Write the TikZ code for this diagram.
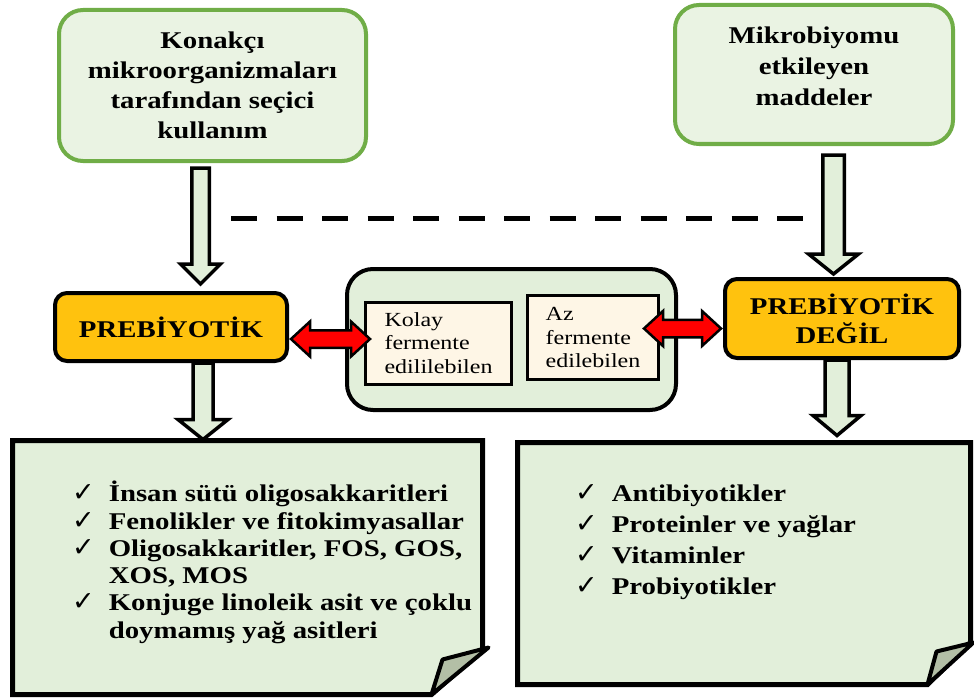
\documentclass[tikz,border=0pt]{standalone}
\usepackage{fontspec}
\setmainfont{Liberation Serif}[FakeStretch=1.2]
\newfontfamily\checkfont{DejaVu Sans}
\usetikzlibrary{calc}

\definecolor{leafgreen}{HTML}{70AD47}
\definecolor{palegreen}{HTML}{E2EFDA}
\definecolor{lightgreen}{HTML}{EAF3E3}
\definecolor{amber}{HTML}{FFC20E}
\definecolor{cream}{HTML}{FEF6E6}
\definecolor{foldgray}{HTML}{B3BFA6}

\tikzset{
  topbox/.style={draw=leafgreen, fill=lightgreen, line width=4pt, rounded corners=24pt, align=center, font=\bfseries\fontsize{24}{30}\selectfont},
  toptext/.style={align=center, font=\bfseries\fontsize{24}{31}\selectfont},
  amberbox/.style={draw=black, fill=amber, line width=4pt, rounded corners=12pt, align=center, font=\bfseries\fontsize{24}{29}\selectfont},
  midbox/.style={draw=black, fill=palegreen, line width=4pt, rounded corners=26pt},
  creambox/.style={draw=black, fill=cream, line width=3pt, align=left, inner sep=0pt, font=\fontsize{20}{23.3}\selectfont},
  blockarrow/.style={draw=black, fill=palegreen, line width=3.5pt},
  redarrow/.style={draw=black, fill=red, line width=2.5pt},
  dashline/.style={line width=5pt, dash pattern=on 26pt off 19.5pt},
  notebox/.style={draw=black, fill=palegreen, line width=5pt},
  fold/.style={draw=black, fill=foldgray, line width=4pt, line join=round},
  frame/.style={inner sep=0pt, outer sep=0pt},
  listtext/.style={inner sep=0pt, anchor=north west, font=\bfseries\fontsize{24}{27.3}\selectfont},
}

% check mark of the lists
\newcommand{\chk}{{\checkfont\fontsize{27}{20}\selectfont ✓}}

% block arrow pointing down: start, tip, shaft half width, head half width
\newcommand{\blockdown}[4]{%
  \draw[blockarrow] let \p1=(#1), \p2=(#2) in
    (\x1-#3pt,\y1) -- (\x1+#3pt,\y1) -- (\x1+#3pt,\y2+20pt) -- (\x1+#4pt,\y2+20pt)
    -- (\x1,\y2) -- (\x1-#4pt,\y2+20pt) -- (\x1-#3pt,\y2+20pt) -- cycle;}

% red double arrow: left tip, right tip
\newcommand{\twowayarrow}[2]{%
  \draw[redarrow] let \p1=(#1), \p2=(#2) in
    (\x1,\y1) -- (\x1+19pt,\y1+17.5pt) -- (\x1+19pt,\y1+8.75pt) -- (\x2-19pt,\y1+8.75pt)
    -- (\x2-19pt,\y1+17.5pt) -- (\x2,\y1) -- (\x2-19pt,\y1-17.5pt) -- (\x2-19pt,\y1-8.75pt)
    -- (\x1+19pt,\y1-8.75pt) -- (\x1+19pt,\y1-17.5pt) -- cycle;}

\begin{document}
\begin{tikzpicture}[x=1pt,y=-1pt]
   \useasboundingbox (0,0) rectangle (974,698);

   % top boxes
   \node[topbox, minimum width=307pt, minimum height=151pt] (konak) at (212.5,85.5)
      {Konakçı\\mikroorganizmaları\\tarafından seçici\\kullanım};
   \node[topbox, minimum width=278pt, minimum height=139pt] (mikro) at (814,74.5) {};
   \node[toptext] (mikrotext) at ([yshift=8pt]mikro.center) {Mikrobiyomu\\etkileyen\\maddeler};

   % middle row
   \node[amberbox, minimum width=232pt, minimum height=68pt] (preb) at (171,327) {PREBİYOTİK};
   \node[amberbox, minimum width=234pt, minimum height=79pt] (degil) at (842,318.5) {PREBİYOTİK\\DEĞİL};
   \node[midbox, minimum width=329pt, minimum height=141pt] (mid) at (511.5,339.5) {};
   \node[creambox, minimum width=146pt, minimum height=82pt] (kolay) at (438.5,343) {Kolay\\fermente\\edililebilen};
   \node[creambox, minimum width=131pt, minimum height=84pt] (az) at (593,337.5) {Az\\fermente\\edilebilen};

   % dashed link
   \coordinate (dashl) at (231,218);
   \coordinate (dashr) at (803,218);
   \draw[dashline] (dashl) -- (dashr);

   % bottom note boxes
   \node[frame, minimum width=470pt, minimum height=254pt] (lbox) at (247.5,567.5) {};
   \draw[notebox] (lbox.north west) -- (lbox.north east) -- ([yshift=45pt]lbox.south east)
      -- ([xshift=-51pt]lbox.south east) -- (lbox.south west) -- cycle;
   \draw[fold] ([xshift=6pt,yshift=47pt]lbox.south east) -- ([xshift=-40pt,yshift=35pt]lbox.south east)
      -- ([xshift=-51pt]lbox.south east) -- cycle;

   \node[frame, minimum width=453pt, minimum height=242pt] (rbox) at (744,563.5) {};
   \draw[notebox] (rbox.north west) -- (rbox.north east) -- ([yshift=42pt]rbox.south east)
      -- ([xshift=-43pt]rbox.south east) -- (rbox.south west) -- cycle;
   \draw[fold] ([xshift=3pt,yshift=42pt]rbox.south east) -- ([xshift=-34pt,yshift=33pt]rbox.south east)
      -- ([xshift=-43pt]rbox.south east) -- cycle;

   \node[listtext] (llist) at (72,481) {%
\begin{tabular}{@{}l@{\hspace{14pt}}l@{}}
\chk & İnsan sütü oligosakkaritleri\\
\chk & Fenolikler ve fitokimyasallar\\
\chk & Oligosakkaritler, FOS, GOS,\\
     & XOS, MOS\\
\chk & Konjuge linoleik asit ve çoklu\\
     & doymamış yağ asitleri
\end{tabular}};

   \node[listtext, font=\bfseries\fontsize{24}{31}\selectfont] (rlist) at (575,480) {%
\begin{tabular}{@{}l@{\hspace{14pt}}l@{}}
\chk & Antibiyotikler\\
\chk & Proteinler ve yağlar\\
\chk & Vitaminler\\
\chk & Probiyotikler
\end{tabular}};

   % block arrows
   \blockdown{[xshift=-12pt,yshift=-5pt]konak.south}{[yshift=7pt]preb.north}{8.75}{20}
   \blockdown{[xshift=19.5pt,yshift=-9pt]mikro.south}{[yshift=3pt]degil.north}{10.75}{25}
   \blockdown{[xshift=32pt]preb.south}{[yshift=1pt]lbox.north}{10}{25}
   \blockdown{[xshift=-5pt]degil.south}{[yshift=7pt]rbox.north}{12}{24}

   % red two-way arrows
   \twowayarrow{[xshift=2pt,yshift=-12pt]preb.east}{[xshift=6pt]kolay.west}
   \twowayarrow{[xshift=-16pt,yshift=9pt]az.east}{[xshift=-2pt]degil.west}
\end{tikzpicture}
\end{document}
